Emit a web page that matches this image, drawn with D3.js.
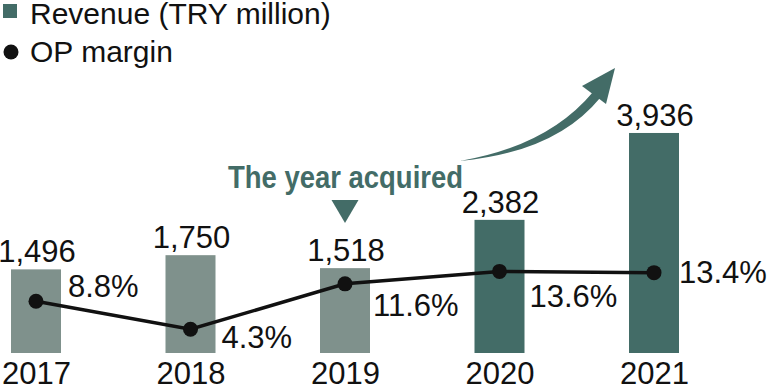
<!DOCTYPE html>
<html lang="en">
    <head>
        <meta charset="utf-8">
        <title>Revenue and OP margin</title>
        <script src="https://d3js.org/d3.v7.min.js" charset="utf-8"></script>
        <style>
            body { margin: 0; background: #fff; }
            text { font-family: "Liberation Sans", Arial, sans-serif; }
        </style>
    </head>
    <body>
        <script type="text/javascript">

            // data
            var years = ["2017", "2018", "2019", "2020", "2021"];
            var revenue = [1496, 1750, 1518, 2382, 3936];
            var opMargin = [8.8, 4.3, 11.6, 13.6, 13.4];
            var acquiredYear = "2019";
            var legendLabels = ["Revenue (TRY million)", "OP margin"];
            var noteText = "The year acquired";

            //Width and height
            var w = 770;
            var h = 385;

            var dark = "#436c67";
            var light = "#7f918c";
            var ink = "#111111";
            var fontSize = 31;

            var svg = d3.select("body")
                .append("svg")
                .attr("width", w)
                .attr("height", h);

            // scales
            var x = d3.scalePoint()
                .domain(years)
                .range([36, 654]);

            var yRev = d3.scaleLinear()
                .domain([0, 4000])
                .range([353, 129.4]);

            var yPct = d3.scaleLinear()
                .domain([0, 20])
                .range([356, 231.6]);

            var barW = 50;

            // bars
            svg.selectAll("rect.bar")
                .data(years)
                .enter()
                .append("rect")
                .attr("class", "bar")
                .attr("x", function(d) { return x(d) - barW / 2; })
                .attr("width", barW)
                .attr("y", function(d, i) { return yRev(revenue[i]); })
                .attr("height", function(d, i) { return yRev(0) - yRev(revenue[i]); })
                .attr("fill", function(d) { return +d > +acquiredYear ? dark : light; });

            // revenue labels
            svg.selectAll("text.rev")
                .data(years)
                .enter()
                .append("text")
                .attr("class", "rev")
                .attr("x", function(d) { return x(d) + 1; })
                .attr("y", function(d, i) { return yRev(revenue[i]) - 7; })
                .attr("text-anchor", "middle")
                .attr("font-size", fontSize)
                .attr("fill", ink)
                .text(function(d, i) { return d3.format(",")(revenue[i]); });

            // margin line
            var line = d3.line()
                .x(function(d, i) { return x(years[i]); })
                .y(function(d) { return yPct(d); });

            svg.append("path")
                .datum(opMargin)
                .attr("d", line)
                .attr("fill", "none")
                .attr("stroke", ink)
                .attr("stroke-width", 3.5);

            svg.selectAll("circle.dot")
                .data(opMargin)
                .enter()
                .append("circle")
                .attr("class", "dot")
                .attr("cx", function(d, i) { return x(years[i]); })
                .attr("cy", function(d) { return yPct(d); })
                .attr("r", 7.5)
                .attr("fill", ink);

            // margin labels, nudged off the line by hand
            var pctOffset = [[32, -4], [31, 19], [28, 32], [30, 36], [25, 10]];

            svg.selectAll("text.pct")
                .data(opMargin)
                .enter()
                .append("text")
                .attr("class", "pct")
                .attr("x", function(d, i) { return x(years[i]) + pctOffset[i][0]; })
                .attr("y", function(d, i) { return yPct(d) + pctOffset[i][1]; })
                .attr("font-size", fontSize)
                .attr("fill", ink)
                .text(function(d) { return d.toFixed(1) + "%"; });

            // year axis
            var axis = svg.append("g")
                .attr("transform", "translate(0," + yRev(0) + ")")
                .call(d3.axisBottom(x).tickSize(0).tickPadding(9));

            axis.select(".domain").remove();
            axis.selectAll("text")
                .attr("font-family", "Liberation Sans, Arial, sans-serif")
                .attr("font-size", fontSize)
                .attr("fill", ink);

            // legend
            var legend = svg.append("g");

            legend.append("rect")
                .attr("x", 3)
                .attr("y", 4)
                .attr("width", 14)
                .attr("height", 14)
                .attr("fill", dark);

            legend.append("circle")
                .attr("cx", 11)
                .attr("cy", 52)
                .attr("r", 7.5)
                .attr("fill", ink);

            legend.selectAll("text")
                .data(legendLabels)
                .enter()
                .append("text")
                .attr("x", 30)
                .attr("y", function(d, i) { return 24 + i * 38; })
                .attr("font-size", 30)
                .attr("fill", ink)
                .text(function(d) { return d; });

            // acquisition note
            var ax = x(acquiredYear);

            svg.append("text")
                .attr("x", 228)
                .attr("y", 188)
                .attr("font-size", 31)
                .attr("font-weight", "bold")
                .attr("textLength", 235)
                .attr("lengthAdjust", "spacingAndGlyphs")
                .attr("fill", dark)
                .text(noteText);

            svg.append("path")
                .attr("d", "M" + (ax - 13.5) + " 200 L" + (ax + 13.5) + " 200 L" + ax + " 223 Z")
                .attr("fill", dark);

            // tapered growth arrow
            svg.append("path")
                .attr("d", "M460 161 Q548 146 593 92 L600 98 Q556 152 460 161 Z")
                .attr("fill", dark);

            svg.append("path")
                .attr("d", "M615 68 L582 86 L606 104 Z")
                .attr("fill", dark);

        </script>
    </body>
</html>
